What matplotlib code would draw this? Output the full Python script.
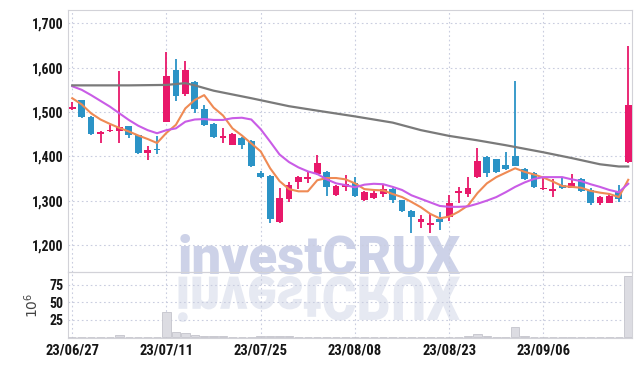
import numpy as np
import matplotlib
matplotlib.use("Agg")
import matplotlib.pyplot as plt
from matplotlib.textpath import TextPath
from matplotlib.patches import PathPatch
from matplotlib.font_manager import FontProperties, fontManager
from matplotlib.transforms import Affine2D

# trading days (KRX, 8/15 closed)
dates = ["23/06/27", "23/06/28", "23/06/29", "23/06/30", "23/07/03", "23/07/04",
         "23/07/05", "23/07/06", "23/07/07", "23/07/10", "23/07/11", "23/07/12",
         "23/07/13", "23/07/14", "23/07/17", "23/07/18", "23/07/19", "23/07/20",
         "23/07/21", "23/07/24", "23/07/25", "23/07/26", "23/07/27", "23/07/28",
         "23/07/31", "23/08/01", "23/08/02", "23/08/03", "23/08/04", "23/08/07",
         "23/08/08", "23/08/09", "23/08/10", "23/08/11", "23/08/14", "23/08/16",
         "23/08/17", "23/08/18", "23/08/21", "23/08/22", "23/08/23", "23/08/24",
         "23/08/25", "23/08/28", "23/08/29", "23/08/30", "23/08/31", "23/09/01",
         "23/09/04", "23/09/05", "23/09/06", "23/09/07", "23/09/08", "23/09/11",
         "23/09/12", "23/09/13", "23/09/14", "23/09/15", "23/09/18", "23/09/19"]

opens = [1507, 1527, 1489, 1451, 1457, 1458, 1468, 1448, 1408, 1417,
         1478, 1595, 1541, 1568, 1506, 1473, 1441, 1426, 1442, 1435,
         1363, 1356, 1251, 1304, 1341, 1349, 1359, 1365, 1313, 1331,
         1339, 1301, 1307, 1316, 1326, 1301, 1277, 1251, 1246, 1258,
         1264, 1317, 1314, 1354, 1399, 1394, 1380, 1401, 1371, 1363,
         1326, 1322, 1335, 1329, 1348, 1323, 1295, 1295, 1320, 1388]
highs = [1523, 1528, 1490, 1456, 1471, 1593, 1469, 1449, 1424, 1445,
         1636, 1619, 1616, 1569, 1516, 1474, 1463, 1452, 1443, 1436,
         1366, 1357, 1329, 1341, 1355, 1365, 1403, 1366, 1336, 1357,
         1354, 1322, 1322, 1338, 1328, 1302, 1278, 1268, 1271, 1275,
         1313, 1331, 1354, 1418, 1400, 1395, 1410, 1570, 1374, 1364,
         1353, 1348, 1350, 1361, 1350, 1329, 1310, 1317, 1335, 1648]
lows = [1504, 1487, 1448, 1431, 1455, 1429, 1441, 1405, 1392, 1405,
        1477, 1525, 1537, 1498, 1469, 1441, 1431, 1425, 1416, 1375,
        1350, 1250, 1250, 1298, 1326, 1339, 1357, 1311, 1311, 1322,
        1309, 1300, 1303, 1309, 1295, 1274, 1226, 1238, 1226, 1234,
        1253, 1294, 1309, 1351, 1354, 1362, 1370, 1377, 1346, 1329,
        1323, 1309, 1326, 1328, 1320, 1290, 1290, 1294, 1298, 1386]
closes = [1512, 1489, 1450, 1455, 1460, 1467, 1448, 1407, 1414, 1415,
          1581, 1536, 1595, 1506, 1471, 1444, 1446, 1450, 1426, 1378,
          1354, 1259, 1305, 1335, 1354, 1353, 1385, 1330, 1332, 1338,
          1311, 1320, 1318, 1326, 1301, 1276, 1264, 1258, 1250, 1252,
          1294, 1322, 1328, 1389, 1362, 1365, 1372, 1379, 1348, 1331,
          1329, 1326, 1329, 1339, 1321, 1294, 1309, 1311, 1304, 1516]
# volume, millions of shares
volumes = [0.3, 1.0, 1.0, 0.2, 0.3, 2.8, 0.3, 0.2, 0.3, 0.3,
           36.0, 7.0, 6.0, 3.5, 2.0, 1.2, 1.2, 0.5, 0.5, 0.4,
           1.2, 1.2, 2.5, 1.3, 0.4, 0.3, 0.5, 1.0, 1.0, 0.3,
           0.3, 0.3, 0.3, 0.3, 0.3, 0.3, 0.3, 0.3, 0.3, 0.3,
           0.3, 0.4, 1.2, 4.5, 1.5, 0.4, 1.0, 15.0, 1.3, 0.3,
           0.3, 0.3, 0.3, 0.3, 0.3, 0.3, 0.3, 0.3, 0.4, 88.0]

ma5 = [1531, 1517, 1497, 1483, 1473, 1464, 1456, 1447, 1439, 1430,
       1453, 1471, 1508, 1527, 1538, 1510, 1492, 1463, 1447, 1429,
       1411, 1373, 1344, 1326, 1321, 1321, 1346, 1351, 1351, 1348,
       1339, 1326, 1324, 1323, 1315, 1308, 1297, 1285, 1270, 1260,
       1264, 1275, 1289, 1317, 1339, 1353, 1363, 1373, 1365, 1359,
       1352, 1343, 1333, 1331, 1329, 1322, 1318, 1315, 1308, 1347]
ma10 = [1558, 1550, 1538, 1525, 1512, 1497, 1482, 1469, 1459, 1452,
        1459, 1463, 1478, 1483, 1484, 1482, 1482, 1486, 1487, 1483,
        1461, 1433, 1404, 1387, 1375, 1366, 1360, 1348, 1339, 1335,
        1330, 1336, 1338, 1337, 1331, 1324, 1312, 1304, 1296, 1288,
        1286, 1286, 1287, 1293, 1300, 1308, 1319, 1331, 1341, 1349,
        1353, 1353, 1353, 1348, 1344, 1337, 1331, 1324, 1319, 1338]
ma_long_idx = [0, 6, 10, 12, 13, 15, 19, 23, 26, 30, 34, 37, 40, 43, 46, 50, 53, 56, 58, 59]
ma_long = [1560, 1560, 1561, 1565, 1560, 1548, 1531, 1513, 1503, 1490,
           1476, 1459, 1446, 1436, 1425, 1409, 1396, 1382, 1377, 1377]

price_ticks = [1200, 1300, 1400, 1500, 1600, 1700]
vol_ticks = [25, 50, 75]
date_ticks = [0, 10, 20, 30, 40, 50]

UP = "#e8186a"; DOWN = "#2b93c6"
GRID = "#c9cddf"; SPINE = "#d2d2d8"; INK = "#161616"

# narrowest bold face that is installed
installed = {f.name for f in fontManager.ttflist}
narrow = "DejaVu Sans"
for cand in ["Roboto Condensed", "Noto Sans Condensed", "Noto Sans ExtraCondensed",
             "Liberation Sans Narrow", "Open Sans Condensed"]:
    if cand in installed:
        narrow = cand
        break
LABEL_FP = FontProperties(family=[narrow, "DejaVu Sans"], weight="heavy",
                          stretch="condensed", size=10)
DATE_FP = FontProperties(family=[narrow, "DejaVu Sans"], weight="heavy",
                         stretch="condensed", size=10.5)

fig = plt.figure(figsize=(6.42, 3.66), dpi=100, facecolor="white")
ax = fig.add_axes([68 / 642, 1 - 272 / 366, 564 / 642, 262 / 366])
axv = fig.add_axes([68 / 642, 1 - 338 / 366, 564 / 642, 66 / 366], sharex=ax)
for a in (ax, axv):
    a.set_facecolor("none")
    for s in a.spines.values():
        s.set_color(SPINE)
    a.tick_params(length=0, colors=INK)
    a.grid(True, color=GRID, linestyle=(0, (1.5, 2.5)), linewidth=0.8)
    a.set_axisbelow(True)

x = np.arange(len(dates))
o = np.array(opens); c = np.array(closes)
colors = [UP if cc >= oo else DOWN for oo, cc in zip(opens, closes)]
ax.vlines(x, lows, highs, colors=colors, linewidth=1.3, zorder=3)
bottoms = np.minimum(o, c)
heights = np.maximum(np.abs(c - o), 1.5)
ax.bar(x, heights, bottom=bottoms, width=0.72, color=colors, zorder=4)

ax.plot(x, ma5, color="#ef8a54", linewidth=1.5, zorder=5)
ax.plot(x, ma10, color="#c95ce6", linewidth=1.5, zorder=5)
ax.plot(ma_long_idx, ma_long, color="#7a7a7a", linewidth=1.6, zorder=5)

ax.set_ylim(1139, 1730)
ax.set_yticks(price_ticks)
ax.set_yticklabels([f"{t:,}" for t in price_ticks], fontproperties=LABEL_FP)
ax.set_xlim(-0.45, 59.4)
ax.set_xticks(date_ticks)
ax.tick_params(axis="x", labelbottom=False)

axv.bar(x, volumes, width=0.9, color="#dcdce2", edgecolor="#c4c4cc",
        linewidth=0.6, zorder=3)
axv.set_ylim(-1, 93)
axv.set_yticks(vol_ticks)
axv.set_yticklabels([str(t) for t in vol_ticks], fontproperties=LABEL_FP)
axv.set_xticklabels([dates[i] for i in date_ticks], fontproperties=DATE_FP)
axv.tick_params(axis="x", pad=4)
axv.set_ylabel("$10^6$", color="#444444", fontsize=10, labelpad=6)

# watermark (real text) + its mirrored reflection
wm_font = "Roboto" if "Roboto" in installed else "DejaVu Sans"
fig.text(178 / 642, 1 - 274 / 366, "investCRUX", family=wm_font,
         fontweight="black", fontsize=38, color="#cdd2e8", ha="left",
         va="baseline", zorder=-1)
tp = TextPath((0, 0), "investCRUX", size=50,
              prop=FontProperties(family=wm_font, weight="black"))
ext = tp.get_extents()
sx = (460 - 178) / ext.width
t_ref = Affine2D().translate(-ext.x0, -ext.y0).scale(sx, -46 / ext.height).translate(178, 366 - 276)
fig.add_artist(PathPatch(tp, transform=t_ref, facecolor="#e6e9f2",
                         edgecolor="none", zorder=-1))

fig.savefig("out.png", dpi=100)
